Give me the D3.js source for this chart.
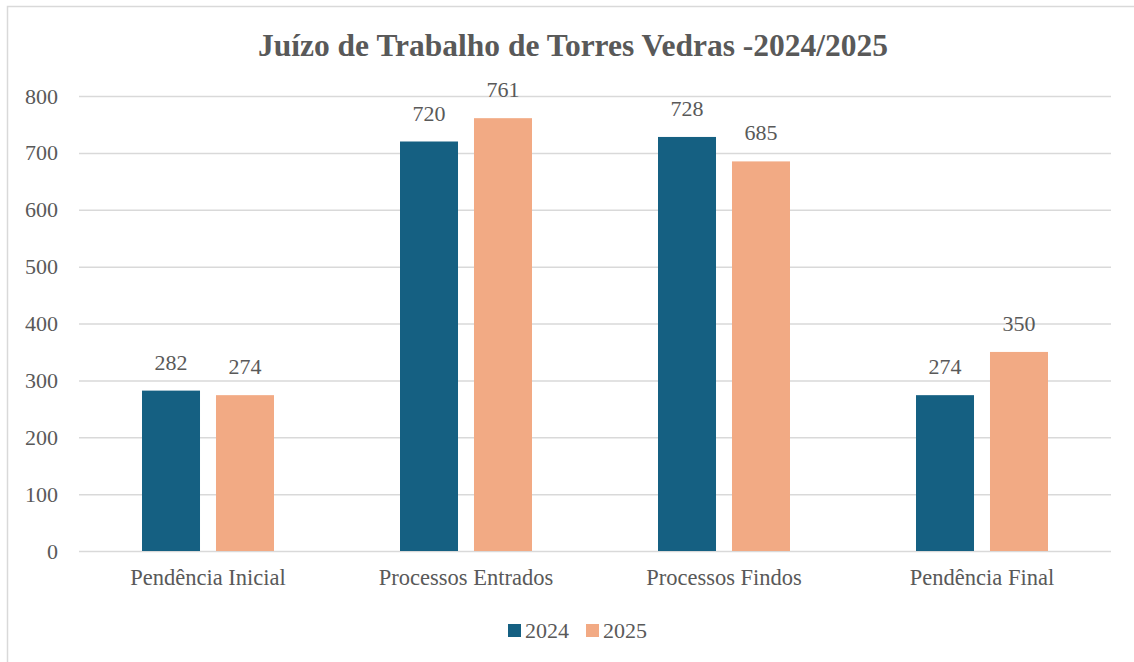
<!DOCTYPE html>
<html><head><meta charset="utf-8">
<script src="https://cdn.jsdelivr.net/npm/d3@7"></script>
<style>body{margin:0;background:#fff}svg{display:block}</style>
</head><body><svg id="c" width="1134" height="662"></svg>
<script>
const title = "Juízo de Trabalho de Torres Vedras -2024/2025";
const categories = ["Pendência Inicial","Processos Entrados","Processos Findos","Pendência Final"];
const seriesNames = ["2024","2025"];
const values2024 = [282,720,728,274];
const values2025 = [274,761,685,350];
const yTicks = [0,100,200,300,400,500,600,700,800];
const colors = ["#156082","#F2AA84"];

const svg = d3.select("#c");
const font = "'Liberation Serif','DejaVu Serif',serif";
const textCol = "#595959";
const W=1134,H=662;
const m = {l:79, r:W-1111, t:96, b:H-551};

svg.append("rect").attr("x",7.5).attr("y",6.5).attr("width",W).attr("height",H)
  .attr("fill","#fff").attr("stroke","#d9d9d9").attr("stroke-width",1.5);

const x0 = d3.scaleBand().domain(categories).range([m.l, W-m.r]);
const y = d3.scaleLinear().domain([0,800]).range([H-m.b, m.t]);
const x1 = d3.scaleBand().domain(seriesNames).range([63, 258-63]).paddingInner(0.216);

// grid
const ga = svg.append("g").attr("transform",`translate(${m.l},0)`)
  .call(d3.axisLeft(y).tickValues(yTicks).tickSize(-(W-m.l-m.r)).tickPadding(21).tickFormat(d3.format("d")));
ga.select(".domain").remove();
ga.selectAll(".tick line").attr("stroke","#d9d9d9").attr("stroke-width",1.5);
ga.selectAll(".tick text").attr("fill",textCol).style("font-family",font).style("font-size","22px").attr("dy","0.32em");

const series = [values2024, values2025];
const g = svg.append("g");
categories.forEach((c,i)=>{
  seriesNames.forEach((s,j)=>{
    const v = series[j][i];
    const bx = x0(c)+x1(s);
    g.append("rect").attr("x",bx).attr("y",y(v)).attr("width",x1.bandwidth()).attr("height",y(0)-y(v)).attr("fill",colors[j]);
    g.append("text").attr("x",bx+x1.bandwidth()/2).attr("y",y(v)-21).attr("text-anchor","middle")
      .attr("fill",textCol).style("font-family",font).style("font-size","22px").text(v);
  });
});

// x axis labels
const xa = svg.append("g").attr("transform",`translate(0,${H-m.b})`)
  .call(d3.axisBottom(x0).tickSize(0).tickPadding(18));
xa.select(".domain").remove();
xa.selectAll(".tick text").attr("fill",textCol).style("font-family",font).style("font-size","22.5px");

// title
svg.append("text").attr("x",573).attr("y",56).attr("text-anchor","middle")
  .attr("fill",textCol).style("font-family",font).style("font-size","31.5px").style("font-weight","bold").text(title);

// legend
const legX = [508,586];
seriesNames.forEach((s,j)=>{
  svg.append("rect").attr("x",legX[j]).attr("y",624).attr("width",13).attr("height",13).attr("fill",colors[j]);
  svg.append("text").attr("x",legX[j]+17).attr("y",638).attr("fill",textCol)
    .style("font-family",font).style("font-size","22px").text(s);
});
</script></body></html>
